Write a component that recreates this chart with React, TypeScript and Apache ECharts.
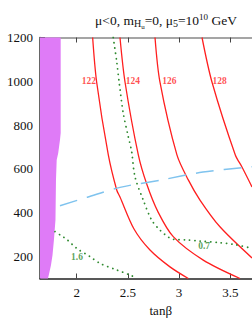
import React, { useEffect, useRef } from "react";
import * as echarts from "echarts";

// Axis ranges and ticks
const xMin = 1.642;
const xMax = 4;
const yMin = 100;
const yMax = 1200;
const xTicks = [2, 2.5, 3, 3.5, 4];
const xTickLabels = [2, 2.5, 3, 3.5];
const yTicks = [200, 400, 600, 800, 1000, 1200];

// Higgs mass contours (red)
const c122X = [2.156, 2.195, 2.309, 2.391, 2.423, 2.56, 2.716, 2.911, 3.09];
const c122Y = [1200, 997, 664, 504, 472, 326, 230, 153, 100];
const c124X = [2.423, 2.472, 2.602, 2.684, 2.794, 2.943, 3.236, 3.595];
const c124Y = [1200, 997, 664, 531, 404, 291, 184, 100];
const c126X = [2.765, 2.813, 2.979, 3.09, 3.204, 3.399, 3.712];
const c126Y = [1200, 997, 664, 550, 458, 336, 194];
const c128X = [3.224, 3.321, 3.549, 3.614, 3.712];
const c128Y = [1200, 997, 664, 609, 518];

const redLabels = ["122", "124", "126", "128"];
const redLabelX = [2.118, 2.548, 2.906, 3.397];
const redLabelY = [1000, 1000, 1000, 1000];

// Green dotted contours
const g07X = [2.357, 2.391, 2.416, 2.455, 2.504, 2.537, 2.569, 2.65, 2.732, 2.813, 2.895, 2.943, 3.074, 3.204, 3.399, 3.529, 3.712];
const g07Y = [1200, 1090, 991, 854, 747, 679, 565, 458, 367, 321, 289, 279, 276, 271, 263, 256, 238];
const g16X = [1.788, 1.854, 1.902, 2.0, 2.13, 2.228, 2.391, 2.521, 2.586];
const g16Y = [314, 294, 279, 238, 200, 169, 139, 116, 101];
const greenLabels = ["1.6", "0.7"];
const greenLabelX = [2.003, 3.245];
const greenLabelY = [198, 248];

// Blue dashed line
const blueX = [1.837, 2.104, 2.423, 2.83, 3.233, 3.712];
const blueY = [432, 471, 516, 550, 586, 610];

// Purple excluded region boundary
const purpleX = [1.844, 1.844, 1.837, 1.82, 1.805, 1.798, 1.793, 1.778, 1.764, 1.749, 1.734, 1.72];
const purpleY = [1200, 764, 732, 673, 641, 550, 367, 276, 206, 160, 128, 100];

const FONT = "Liberation Serif";

const pairs = (xs: number[], ys: number[]) => xs.map((x, i) => [x, ys[i]]);

export default function App() {
  const ref = useRef<HTMLDivElement>(null);
  useEffect(() => {
    if (!ref.current) return;
    const chart = echarts.init(ref.current, null, { renderer: "svg" });
    const red = (xs: number[], ys: number[]) => ({
      type: "line",
      data: pairs(xs, ys),
      smooth: 0.3,
      symbol: "none",
      lineStyle: { color: "#ff1f1f", width: 1.3 },
      z: 3,
      silent: true,
    });
    const green = (xs: number[], ys: number[]) => ({
      type: "line",
      data: pairs(xs, ys),
      smooth: 0.3,
      symbol: "none",
      lineStyle: { color: "#2f8a2f", width: 1.8, type: [0.1, 5.2], cap: "round" },
      z: 3,
      silent: true,
    });
    const tickStyle = { color: "#444", width: 1 };
    chart.setOption({
      animation: false,
      title: {
        text: "μ<0, m{sub|H}{subsub|u}=0, μ{sub|5}=10{sup|10} GeV",
        left: 161,
        top: 6,
        textAlign: "center",
        textStyle: {
          fontFamily: FONT,
          fontSize: 13.5,
          fontWeight: "normal",
          color: "#111",
          rich: {
            sub: { fontFamily: FONT, fontSize: 10, color: "#111", padding: [6, 0, 0, 0] },
            subsub: { fontFamily: FONT, fontSize: 7, color: "#111", padding: [12, 0, 0, 0] },
            sup: { fontFamily: FONT, fontSize: 9, color: "#111", padding: [0, 0, 8, 0] },
          },
        },
      },
      grid: { left: 40, top: 37.5, right: -29.5, bottom: 40.5, containLabel: false, outerBoundsMode: "none" },
      xAxis: [
        {
          type: "value",
          min: xMin,
          max: xMax,
          position: "bottom",
          axisLine: { show: true, lineStyle: { color: "#222", width: 1.5 } },
          axisTick: { show: true, inside: true, length: 5, customValues: xTicks, lineStyle: tickStyle },
          axisLabel: {
            customValues: xTickLabels,
            formatter: (v: number) => String(v),
            fontFamily: FONT,
            fontSize: 13,
            color: "#111",
            margin: 7,
          },
          splitLine: { show: false },
          name: "tanβ",
          nameLocation: "middle",
          nameGap: 25,
          nameTextStyle: { fontFamily: FONT, fontSize: 13, color: "#111" },
        },
        {
          type: "value",
          min: xMin,
          max: xMax,
          position: "top",
          axisLine: { show: true, lineStyle: { color: "#888", width: 1.5 } },
          axisTick: { show: true, inside: true, length: 5, customValues: xTicks, lineStyle: tickStyle },
          axisLabel: { show: false },
          splitLine: { show: false },
        },
      ],
      yAxis: {
        type: "value",
        min: yMin,
        max: yMax,
        axisLine: { show: true, lineStyle: { color: "#333", width: 1.5 } },
        axisTick: { show: true, inside: true, length: 5, customValues: yTicks, lineStyle: tickStyle },
        axisLabel: {
          customValues: yTicks,
          formatter: (v: number) => String(v),
          fontFamily: FONT,
          fontSize: 13,
          color: "#111",
          margin: 7,
        },
        splitLine: { show: false },
      },
      series: [
        {
          type: "custom",
          silent: true,
          z: 1,
          data: [[purpleX[0], purpleY[0]]],
          renderItem: (_params: any, api: any) => {
            const pts = purpleX.map((x, i) => api.coord([x, purpleY[i]]));
            pts.push(api.coord([xMin, yMin]));
            pts.push(api.coord([xMin, yMax]));
            return { type: "polygon", shape: { points: pts }, style: { fill: "#df7bf7" } };
          },
        },
        red(c122X, c122Y),
        red(c124X, c124Y),
        red(c126X, c126Y),
        red(c128X, c128Y),
        green(g07X, g07Y),
        green(g16X, g16Y),
        {
          type: "line",
          data: pairs(blueX, blueY),
          smooth: 0.3,
          symbol: "none",
          lineStyle: { color: "#7fc3ee", width: 1.5, type: [18, 10] },
          z: 3,
          silent: true,
        },
        {
          type: "scatter",
          symbolSize: 0,
          silent: true,
          z: 5,
          data: redLabels.map((n, i) => ({ name: n, value: [redLabelX[i], redLabelY[i]] })),
          label: { show: true, position: "inside", formatter: "{b}", color: "#ff1f1f", fontWeight: "bold", fontSize: 9.5, fontFamily: FONT },
        },
        {
          type: "scatter",
          symbolSize: 0,
          silent: true,
          z: 5,
          data: greenLabels.map((n, i) => ({ name: n, value: [greenLabelX[i], greenLabelY[i]] })),
          label: { show: true, position: "inside", formatter: "{b}", color: "#2f8a2f", fontWeight: "bold", fontSize: 9.5, fontFamily: FONT },
        },
      ],
    });
    return () => chart.dispose();
  }, []);
  return <div ref={ref} style={{ position: "absolute", left: 0, top: 0, width: 252, height: 319 }} />;
}
